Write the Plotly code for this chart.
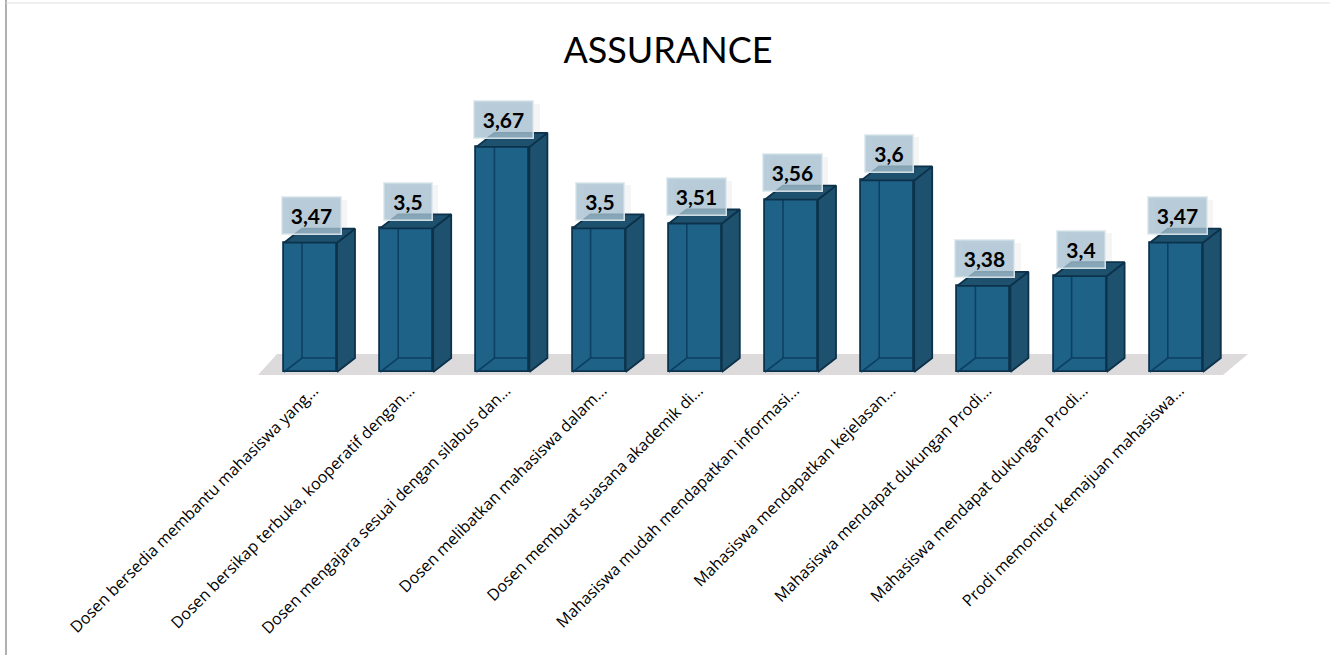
import plotly.graph_objects as go

title = "ASSURANCE"
categories = [
    "Dosen bersedia membantu mahasiswa yang...",
    "Dosen bersikap terbuka, kooperatif dengan...",
    "Dosen mengajara sesuai dengan silabus dan...",
    "Dosen melibatkan mahasiswa dalam...",
    "Dosen membuat suasana akademik di...",
    "Mahasiswa mudah mendapatkan informasi...",
    "Mahasiswa mendapatkan kejelasan...",
    "Mahasiswa mendapat dukungan Prodi...",
    "Mahasiswa mendapat dukungan Prodi...",
    "Prodi memonitor kemajuan mahasiswa...",
]
values = [3.47, 3.5, 3.67, 3.5, 3.51, 3.56, 3.6, 3.38, 3.4, 3.47]
value_labels = ["3,47", "3,5", "3,67", "3,5", "3,51", "3,56", "3,6", "3,38", "3,4", "3,47"]

W, H = 1330, 655
BASE = 3.2
PX_X = 96.2     # pixels per category
PX_Y = 479.0    # pixels per value unit
X0 = 310.5      # pixel of the first category centre
Y_BASE = 372.0  # pixel of the baseline
PLOT_BOTTOM = 377.0
BAR_W = 53 / PX_X
DX, DY = 18 / PX_X, 14 / PX_Y

xs = list(range(len(values)))
x_range = [-X0 / PX_X, (W - X0) / PX_X]
y_range = [BASE - (PLOT_BOTTOM - Y_BASE) / PX_Y, BASE + Y_BASE / PX_Y]

FRONT = "rgb(31,98,136)"
FACE = "rgb(30,81,110)"
EDGE = "rgb(12,50,75)"
BACK = "rgba(10,60,95,0.9)"

side_x, side_y, top_x, top_y, back_x, back_y = [], [], [], [], [], []
for x, v in zip(xs, values):
    l, r = x - BAR_W / 2, x + BAR_W / 2
    side_x += [r, r + DX, r + DX, r, r, None]
    side_y += [BASE, BASE + DY, v + DY, v, BASE, None]
    top_x += [l, l + DX, r + DX, r, l, None]
    top_y += [v, v + DY, v + DY, v, v, None]
    back_x += [l + DX, l + DX, None, l, l + DX, r + DX, None]
    back_y += [v + DY, BASE + DY, None, BASE, BASE + DY, BASE + DY, None]

fig = go.Figure()
fig.add_bar(
    x=xs, y=[v - BASE for v in values], base=BASE, width=BAR_W,
    marker=dict(color=FRONT, line=dict(color=EDGE, width=1.8)), hoverinfo="skip",
)
fig.add_scatter(x=back_x, y=back_y, mode="lines", line=dict(color=BACK, width=1.6), hoverinfo="skip")
for fx, fy in ((side_x, side_y), (top_x, top_y)):
    fig.add_scatter(
        x=fx, y=fy, mode="lines", fill="toself", fillcolor=FACE,
        line=dict(color=EDGE, width=1.8), hoverinfo="skip",
    )

annotations = []
for x, v, t in zip(xs, values, value_labels):
    bw = 58 if len(t) > 3 else 47
    # soft shadow behind the label box
    annotations.append(dict(
        x=x + 0.01, y=v, text=" ", showarrow=False, yshift=25, xshift=7, width=bw, height=36,
        bgcolor="rgba(60,60,60,0.05)", borderwidth=0, borderpad=0,
    ))
    annotations.append(dict(
        x=x + 0.01, y=v, text=t, showarrow=False, yshift=27, width=bw, height=36,
        font=dict(family="Lato", size=21, color="black", weight=700),
        bgcolor="rgba(165,192,208,0.78)", bordercolor="rgba(225,235,240,0.9)",
        borderwidth=1.5, borderpad=0,
    ))

floor_x = [x_range[0] + 258 / PX_X, x_range[0] + 1223 / PX_X, x_range[0] + 1248 / PX_X, x_range[0] + 277 / PX_X]
floor_y = [BASE - 3 / PX_Y, BASE - 3 / PX_Y, BASE + 18 / PX_Y, BASE + 18 / PX_Y]
floor_path = "M " + " L ".join(f"{a} {b}" for a, b in zip(floor_x, floor_y)) + " Z"

shapes = [
    dict(type="path", path=floor_path, xref="x", yref="y", fillcolor="rgb(220,218,219)",
         line=dict(width=0), layer="below"),
    dict(type="line", xref="x domain", yref="paper", x0=6 / W, x1=6 / W,
         y0=-(H - PLOT_BOTTOM) / PLOT_BOTTOM, y1=1, line=dict(color="rgb(150,150,150)", width=1.5)),
    dict(type="line", xref="x domain", yref="paper", x0=6 / W, x1=1,
         y0=1 - 3 / PLOT_BOTTOM, y1=1 - 3 / PLOT_BOTTOM, line=dict(color="rgb(225,225,225)", width=1)),
]

fig.update_layout(
    width=W, height=H, showlegend=False,
    autosize=False,
    margin=dict(l=0, r=0, t=0, b=H - PLOT_BOTTOM, autoexpand=False),
    paper_bgcolor="white", plot_bgcolor="rgba(0,0,0,0)",
    title=dict(text=title, x=668 / W, xanchor="center", y=1 - 50 / H, yanchor="middle", yref="container",
               font=dict(family="Lato", size=36, color="black")),
    xaxis=dict(range=x_range, tickmode="array", tickvals=xs, ticktext=categories, tickangle=-45,
               showgrid=False, zeroline=False, showline=False, ticks="", ticklabelshift=3,
               tickfont=dict(family="Open Sans", size=16, color="black")),
    yaxis=dict(range=y_range, visible=False, showgrid=False, zeroline=False),
    annotations=annotations, shapes=shapes, bargap=0,
)
fig.write_html("out.html", config=dict(displayModeBar=False), post_script="document.body.style.margin='0';")
